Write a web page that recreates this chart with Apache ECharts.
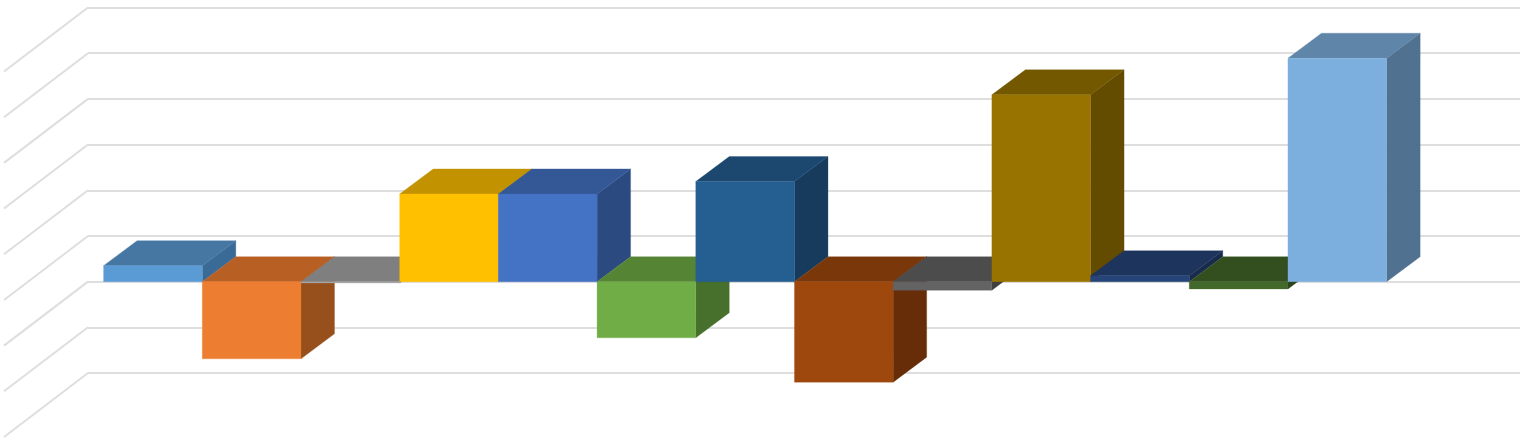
<!DOCTYPE html>
<html>
<head>
<meta charset="utf-8">
<style>html,body{margin:0;padding:0;background:#fff}#c{width:1528px;height:441px}</style>
<script src="https://cdn.jsdelivr.net/npm/echarts@6/dist/echarts.min.js"></script>
</head>
<body>
<div id="c"></div>
<script>
var values = [35, -169, -3, 192, 192, -123, 219, -220, -19, 409, 13, -16, 489];
var faceColors = ['#5B9BD5','#ED7D31','#A5A5A5','#FFC000','#4472C4','#70AD47','#255E91','#9E480E','#636363','#997300','#264478','#43682B','#7CAFDD'];
var topColors = ['#4677A3','#B85F24','#7F7F7F','#C29200','#345796','#558435','#1C4870','#7A370A','#4C4C4C','#745800','#1D345C','#334F20','#5F86A9'];
var sideColors = ['#3A6A96','#97501C','#6A6A6A','#A37B00','#2B4B80','#47702D','#173B5C','#672D08','#3F3F3F','#634B00','#182B4D','#2B421B','#50718F'];
var gridValues = [-200, -100, 0, 100, 200, 300, 400, 500, 600];

var DEPTH_X = 33.5, DEPTH_Y = 25;
var WALL_X = -84, WALL_Y = 64;

function poly(points, fill) {
  return { type: 'polygon', shape: { points: points }, style: { fill: fill, stroke: fill, lineWidth: 0.3 } };
}

var chart = echarts.init(document.getElementById('c'), null, { renderer: 'canvas' });
chart.setOption({
  animation: false,
  backgroundColor: '#ffffff',
  grid: { left: 88, right: 8, top: 7.5, bottom: 68 },
  xAxis: { type: 'value', min: -0.158, max: 14.351, show: false },
  yAxis: {
    type: 'value', min: -200, max: 600, interval: 100,
    axisLabel: { show: false }, axisTick: { show: false }, axisLine: { show: false },
    splitLine: { show: true, lineStyle: { color: '#DEDEDE', width: 2 } }
  },
  series: [
    {
      type: 'custom', clip: false, silent: true, z: 1,
      encode: { y: 0 },
      data: gridValues.map(function (v) { return [v]; }),
      renderItem: function (params, api) {
        var p = api.coord([-0.158, api.value(0)]);
        return {
          type: 'line',
          shape: { x1: p[0], y1: p[1], x2: p[0] + WALL_X, y2: p[1] + WALL_Y },
          style: { stroke: '#DEDEDE', lineWidth: 2 }
        };
      }
    },
    {
      type: 'custom', clip: false, silent: true, z: 3,
      encode: { x: 0, y: 1 },
      data: values.map(function (v, i) { return [i, v]; }),
      renderItem: function (params, api) {
        var i = api.value(0), v = api.value(1);
        var a = api.coord([i, Math.max(v, 0)]);
        var b = api.coord([i + 1, Math.min(v, 0)]);
        var xl = a[0], xr = b[0], yt = a[1], yb = b[1];
        var dx = DEPTH_X, dy = DEPTH_Y;
        return {
          type: 'group',
          children: [
            poly([[xr, yt], [xr + dx, yt - dy], [xr + dx, yb - dy], [xr, yb]], sideColors[i]),
            poly([[xl, yt], [xl + dx, yt - dy], [xr + dx, yt - dy], [xr, yt]], topColors[i]),
            poly([[xl, yt], [xr, yt], [xr, yb], [xl, yb]], faceColors[i])
          ]
        };
      }
    }
  ]
});
</script>
</body>
</html>
